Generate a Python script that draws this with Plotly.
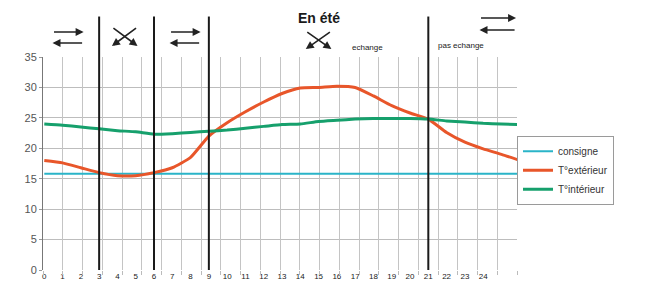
import plotly.graph_objects as go

hours = list(range(0, 27))
tick_labels = [str(h) for h in range(0, 25)]
consigne = [15.8] * 27
t_ext = [18.0, 17.6, 16.8, 16.0, 15.5, 15.5, 16.0, 16.8, 18.5, 22.0, 24.2, 26.0, 27.6,
         29.0, 29.9, 30.0, 30.2, 30.0, 28.6, 27.0, 25.8, 24.8, 22.6, 21.0, 19.9, 19.0, 18.0]
t_int = [24.0, 23.8, 23.5, 23.2, 22.9, 22.7, 22.3, 22.4, 22.6, 22.8, 23.0, 23.3, 23.6,
         23.9, 24.0, 24.4, 24.6, 24.8, 24.9, 24.9, 24.9, 24.8, 24.5, 24.3, 24.1, 24.0, 23.9]
series_names = ["consigne", "T°extérieur", "T°intérieur"]
series_colors = ["#2ab4c8", "#e8562a", "#16a06c"]
phase_bounds = [3, 6, 9, 21]

fig = go.Figure()
fig.add_trace(go.Scatter(x=hours, y=consigne, name=series_names[0], mode="lines",
                         line=dict(color=series_colors[0], width=2)))
fig.add_trace(go.Scatter(x=hours, y=t_ext, name=series_names[1], mode="lines",
                         line=dict(color=series_colors[1], width=3, shape="spline", smoothing=0.5)))
fig.add_trace(go.Scatter(x=hours, y=t_int, name=series_names[2], mode="lines",
                         line=dict(color=series_colors[2], width=3, shape="spline", smoothing=0.5)))
# invisible trace to activate the grid axis
fig.add_trace(go.Scatter(x=[0, 24], y=[0, 0], xaxis="x2", mode="lines",
                         line=dict(width=0), showlegend=False, hoverinfo="skip"))

for b in phase_bounds:
    fig.add_shape(type="line", xref="x", yref="paper", x0=b, x1=b, y0=0, y1=1.19,
                  line=dict(color="#1a1a1a", width=2), layer="above")

ann = []
AC = "#222222"
PLOT_H = 213.0


def ypix(py):
    # pixel row in the page -> paper coordinate
    return (270 - py) / PLOT_H


def arrow(x_tip, py_tip, dx_tail, dy_tail):
    ann.append(dict(x=x_tip, y=ypix(py_tip), ax=dx_tail, ay=dy_tail, xref="x", yref="paper",
                    axref="pixel", ayref="pixel", text="", showarrow=True, arrowhead=2,
                    arrowsize=1, arrowwidth=1.6, arrowcolor=AC))


def exchange(c, pyt, pyb, half=0.85):
    w = half * 18.29 * 2
    arrow(c + half, pyt, -w, 0)
    arrow(c - half, pyb, w, 0)


def cross(c, pyt, pyb, half=0.7):
    w = half * 18.29 * 2
    h = pyb - pyt
    arrow(c - half, pyb, w, -h)
    arrow(c + half, pyb, -w, -h)


exchange(1.3, 32, 43)
cross(4.4, 27, 46)
exchange(7.7, 32, 43)
cross(15.0, 31, 49)
exchange(24.8, 18, 30, half=1.0)


def label(x, py, txt, size):
    ann.append(dict(x=x, y=ypix(py), xref="x", yref="paper", text=txt, showarrow=False,
                    xanchor="center", yanchor="middle",
                    font=dict(family="Liberation Sans, Arial", size=size, color="#1a1a1a")))


label(15.0, 18, "<b>En été</b>", 14)
label(17.7, 47, "echange", 8)
label(22.8, 45, "pas echange", 8)

fig.update_layout(
    width=648, height=289,
    margin=dict(l=43, r=131, t=57, b=19, autoexpand=False),
    paper_bgcolor="white", plot_bgcolor="white",
    showlegend=True,
    legend=dict(x=1.0, y=0.63, xanchor="left", yanchor="top",
                bordercolor="#9a9a9a", borderwidth=1, bgcolor="white",
                font=dict(family="Liberation Sans, Arial", size=10, color="#333333"),
                tracegroupgap=0, itemwidth=30),
    annotations=ann,
    xaxis=dict(range=[-0.07, 25.85], tickmode="array", tickvals=list(range(25)),
               ticktext=tick_labels, showgrid=False, zeroline=False, showline=False,
               ticks="", automargin=False,
               tickfont=dict(family="Liberation Sans, Arial", size=8, color="#1a1a1a")),
    xaxis2=dict(range=[0, 24], overlaying="x", side="bottom", dtick=1, showgrid=True,
                gridcolor="#c4c4c4", gridwidth=1, showticklabels=False, zeroline=False,
                ticks="outside", ticklen=4, tickcolor="#bbbbbb", showline=False,
                automargin=False),
    yaxis=dict(range=[0, 35], dtick=5, showgrid=True, gridcolor="#bdbdbd", gridwidth=1,
               zeroline=False, showline=True, linecolor="#777777", linewidth=1,
               ticks="outside", ticklen=3, tickcolor="#999999", automargin=False,
               tickfont=dict(family="Liberation Sans, Arial", size=11, color="#555555")),
)

fig.write_html("out.html", config={"displayModeBar": False},
               post_script="document.body.style.margin='0px';")
